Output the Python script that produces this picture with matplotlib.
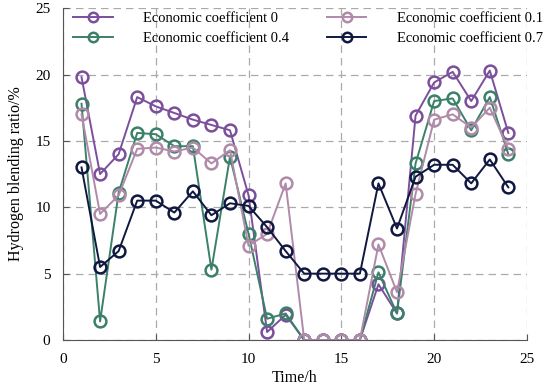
import numpy as np
import matplotlib.pyplot as plt

plt.rcParams['font.family'] = ['Liberation Serif', 'DejaVu Serif']

hours = np.arange(1, 25)
coef_0 = [19.8, 12.5, 14.0, 18.3, 17.6, 17.1, 16.6, 16.2, 15.8, 10.9, 0.6, 1.9,
          0, 0, 0, 0, 4.2, 2.0, 16.9, 19.4, 20.2, 18.0, 20.3, 15.6]
coef_01 = [17.0, 9.5, 10.9, 14.4, 14.5, 14.2, 14.5, 13.3, 14.3, 7.1, 8.0, 11.8,
           0, 0, 0, 0, 7.2, 3.6, 11.0, 16.6, 17.0, 16.0, 17.5, 14.4]
coef_04 = [17.8, 1.4, 11.1, 15.6, 15.5, 14.6, 14.6, 5.3, 13.8, 8.0, 1.6, 2.0,
           0, 0, 0, 0, 5.1, 2.0, 13.3, 18.0, 18.2, 15.8, 18.3, 14.0]
coef_07 = [13.0, 5.5, 6.7, 10.5, 10.5, 9.6, 11.2, 9.4, 10.3, 10.1, 8.5, 6.7,
           5.0, 5.0, 5.0, 5.0, 11.8, 8.4, 12.3, 13.2, 13.2, 11.8, 13.6, 11.5]

fig = plt.figure(figsize=(5.5, 3.87), dpi=100)
ax = fig.add_axes([0.1145, 0.1214, 0.8435, 0.8576])

style = dict(marker='o', markersize=8.5, markerfacecolor='none',
             markeredgewidth=1.8, linewidth=1.4)
# plotted in legend column order
ax.plot(hours, coef_0, color='#7b4f9c', label='Economic coefficient 0', **style)
ax.plot(hours, coef_04, color='#3b8069', label='Economic coefficient 0.4', **style)
ax.plot(hours, coef_01, color='#b08aa9', label='Economic coefficient 0.1', **style)
ax.plot(hours, coef_07, color='#101840', label='Economic coefficient 0.7', **style)

ax.set_xlim(0, 25)
ax.set_ylim(0, 25)
ax.set_xticks([0, 5, 10, 15, 20, 25])
ax.set_yticks([0, 5, 10, 15, 20, 25])
ax.grid(True, linestyle=(0, (6, 4)), color='#aaaaaa', linewidth=0.9)
ax.spines['top'].set_visible(False)
ax.spines['right'].set_visible(False)
ax.spines['left'].set_color('#555555')
ax.spines['bottom'].set_color('#555555')
ax.tick_params(direction='in', length=4, color='#555555', labelsize=11, pad=9)

ax.set_xlabel('Time/h', fontsize=11.5, labelpad=3)
ax.set_ylabel('Hydrogen blending ratio/%', fontsize=11.5, labelpad=8)

ax.legend(loc='upper left', bbox_to_anchor=(0.0, 1.02), ncol=2, frameon=False,
          fontsize=10.5, handlelength=2.7, handletextpad=2.1, columnspacing=2.6,
          labelspacing=0.5, borderaxespad=0.3, markerscale=0.8)

fig.savefig('out.png', dpi=100)
